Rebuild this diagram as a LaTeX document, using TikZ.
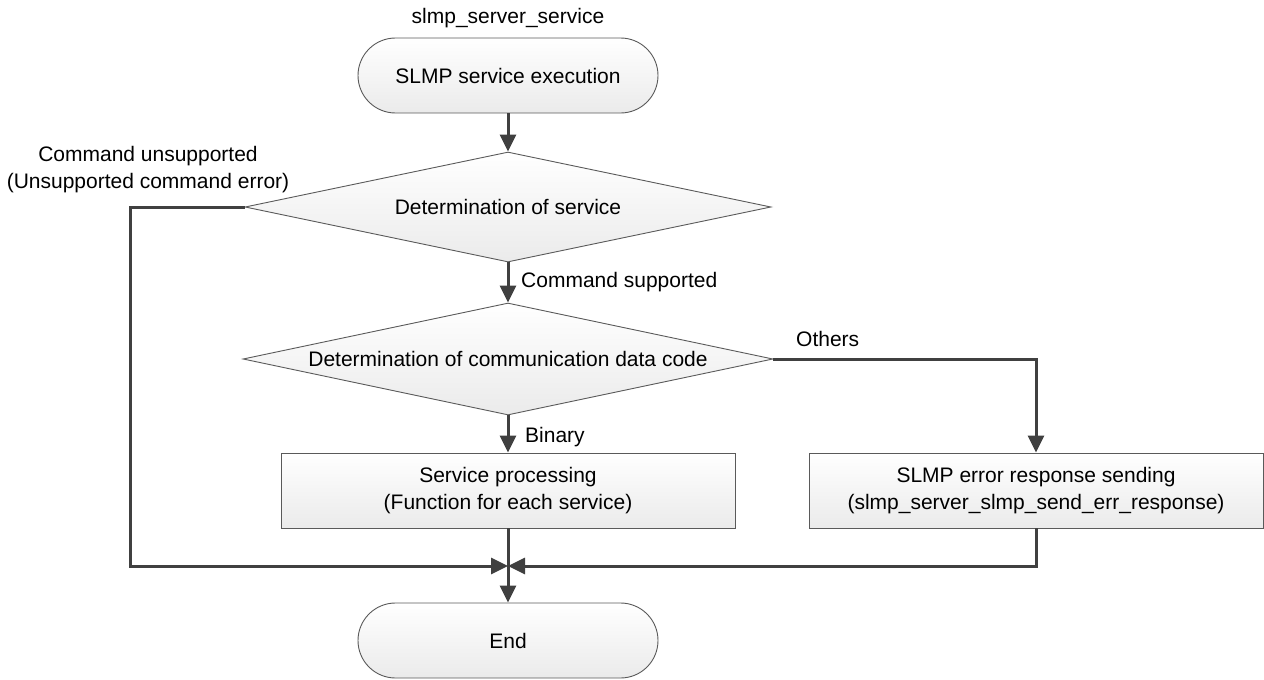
\documentclass[tikz,border=0pt]{standalone}
\usepackage{fontspec}
\setmainfont{Liberation Sans}
\usetikzlibrary{shapes.geometric,arrows.meta}
\definecolor{edgegray}{HTML}{5A5A5A}
\definecolor{linegray}{HTML}{404040}
\tikzset{
  base/.style={draw=edgegray, line width=0.9pt, top color=white, bottom color=black!8,
    inner sep=0pt, font=\fontsize{21}{27}\selectfont, align=center},
  terminal/.style={base, rounded corners=37.5pt, minimum width=300pt, minimum height=75pt},
  decision/.style={base, diamond, aspect=4.78, minimum width=526pt, minimum height=110pt},
  process/.style={base, rectangle, minimum width=454pt, minimum height=75pt},
  flow/.style={draw=linegray, line width=3pt, -{Triangle[length=17pt,width=16pt]}},
  lbl/.style={font=\fontsize{21}{27}\selectfont, align=center, inner sep=0pt}
}
\begin{document}
\begin{tikzpicture}[x=1pt, y=-1pt]
  \useasboundingbox (0,0) rectangle (1264,680);

  % shapes
  \node[lbl] (title) at (508,18) {slmp\_server\_service};
  \node[terminal] (start) at (508,75.5) {SLMP service execution};
  \node[decision] (svc) at (508,207) {Determination of service};
  \node[decision, aspect=4.73, minimum width=530pt, minimum height=112pt] (code) at (508,359) {Determination of communication data code};
  \node[process] (proc) at (508,490.5) {Service processing\\(Function for each service)};
  \node[process] (err) at (1036,490.5) {SLMP error response sending\\(slmp\_server\_slmp\_send\_err\_response)};
  \node[terminal] (end) at (508,640.5) {End};

  \coordinate (merge) at (508,566);
  \coordinate (lcorner) at (130,207);
  \coordinate (lbottom) at (130,566);
  \coordinate (rcorner) at (1036,359);
  \coordinate (rbottom) at (1036,566);

  % connectors
  \draw[flow] (start.south) -- (svc.north);
  \draw[flow] (svc.south) -- (code.north);
  \draw[flow] (code.south) -- (proc.north);
  \draw[flow] (code.east) -- (rcorner) -- (err.north);
  \draw[flow] (svc.west) -- (lcorner) -- (lbottom) -- (merge);
  \draw[flow] (err.south) -- (rbottom) -- (merge);
  \draw[flow] (proc.south) -- (end.north);

  % branch labels
  \node[lbl] (unsup) at (148,170) {Command unsupported\\(Unsupported command error)};
  \node[lbl, anchor=west] (sup) at (521,282) {Command supported};
  \node[lbl, anchor=west] (others) at (796,339) {Others};
  \node[lbl, anchor=west] (binary) at (525,437) {Binary};
\end{tikzpicture}
\end{document}
